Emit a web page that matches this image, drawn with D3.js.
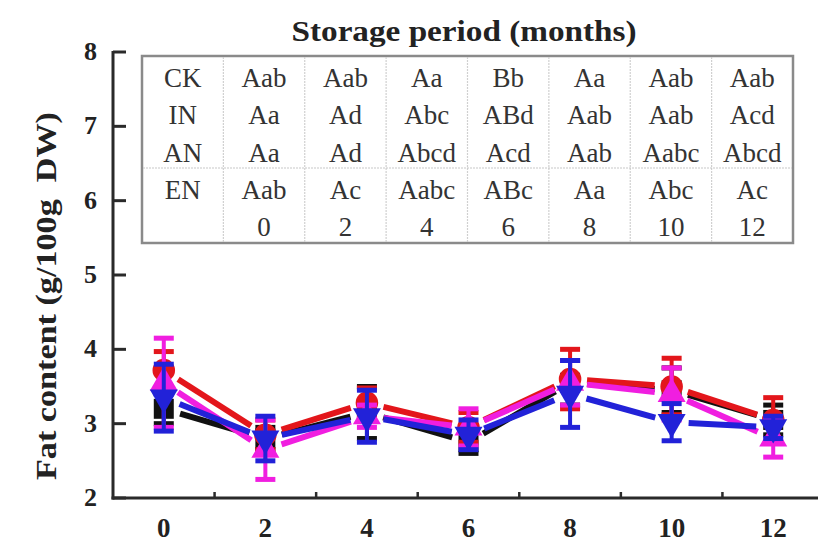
<!DOCTYPE html>
<html>
<head>
<meta charset="utf-8">
<script src="https://cdn.jsdelivr.net/npm/d3@7"></script>
<style>
  body { margin: 0; background: #fff; }
</style>
</head>
<body>
<script>
// months on the x axis
const months = [0, 2, 4, 6, 8, 10, 12]
const yTicks = [2, 3, 4, 5, 6, 7, 8]

// series means (g/100g DW)
const seriesNames = ["CK", "IN", "AN", "EN"]
const ckValues = [3.2, 2.8, 3.15, 2.75, 3.55, 3.45, 3.05]
const inValues = [3.72, 2.85, 3.28, 2.95, 3.6, 3.5, 3.05]
const anValues = [3.55, 2.65, 3.1, 2.95, 3.55, 3.4, 2.8]
const enValues = [3.35, 2.8, 3.1, 2.85, 3.4, 3.02, 2.95]

// standard deviations
const ckErr = [0.2, 0.15, 0.35, 0.15, 0.3, 0.3, 0.2]
const inErr = [0.25, 0.2, 0.2, 0.2, 0.4, 0.38, 0.3]
const anErr = [0.6, 0.4, 0.15, 0.25, 0.3, 0.35, 0.25]
const enErr = [0.45, 0.3, 0.35, 0.2, 0.45, 0.25, 0.15]

// significance letters shown in the table
const ckLetters = ["Aab", "Aab", "Aa", "Bb", "Aa", "Aab", "Aab"]
const inLetters = ["Aa", "Ad", "Abc", "ABd", "Aab", "Aab", "Acd"]
const anLetters = ["Aa", "Ad", "Abcd", "Acd", "Aab", "Aabc", "Abcd"]
const enLetters = ["Aab", "Ac", "Aabc", "ABc", "Aa", "Abc", "Ac"]

const series = [
  {name: "CK", values: ckValues, err: ckErr, color: "#111111", symbol: d3.symbolSquare, size: 400, rot: 0},
  {name: "IN", values: inValues, err: inErr, color: "#e3161b", symbol: d3.symbolCircle, size: 400, rot: 0},
  {name: "AN", values: anValues, err: anErr, color: "#f01ee0", symbol: d3.symbolTriangle, size: 340, rot: 0},
  {name: "EN", values: enValues, err: enErr, color: "#2222d8", symbol: d3.symbolTriangle, size: 340, rot: 180}
]
const tableRows = [ckLetters, inLetters, anLetters, enLetters]

const serif = "'Liberation Serif', 'Times New Roman', serif"
const W = 818, H = 542
const svg = d3.select("body").append("svg")
    .attr("width", W)
    .attr("height", H)
    .style("font-family", serif)

const x = d3.scaleLinear().domain([-1, 13]).range([113, 824])
const y = d3.scaleLinear().domain([2, 8]).range([498, 52])

// axes
svg.append("line")
    .attr("x1", 113).attr("x2", 113)
    .attr("y1", y(8) - 1).attr("y2", y(2) + 1.5)
    .attr("stroke", "#2a2a2a").attr("stroke-width", 3)
svg.append("line")
    .attr("x1", 111.5).attr("x2", W)
    .attr("y1", y(2)).attr("y2", y(2))
    .attr("stroke", "#2a2a2a").attr("stroke-width", 3)

svg.selectAll(".ytick")
    .data(yTicks)
    .enter()
    .append("line")
    .attr("class", "ytick")
    .attr("x1", 113).attr("x2", 126)
    .attr("y1", d => y(d)).attr("y2", d => y(d))
    .attr("stroke", "#2a2a2a").attr("stroke-width", 3)

svg.selectAll(".ylabel")
    .data(yTicks)
    .enter()
    .append("text")
    .attr("class", "ylabel")
    .style("font-family", serif)
    .attr("x", 97)
    .attr("y", d => y(d) + 8)
    .attr("text-anchor", "end")
    .attr("font-size", 26)
    .attr("font-weight", "bold")
    .attr("fill", "#222")
    .text(d => d)

// minor ticks between months
svg.selectAll(".xminor")
    .data(months.map(d => d + 1))
    .enter()
    .append("line")
    .attr("class", "xminor")
    .attr("x1", d => x(d)).attr("x2", d => x(d))
    .attr("y1", y(2)).attr("y2", y(2) - 6)
    .attr("stroke", "#2a2a2a").attr("stroke-width", 2.5)

svg.selectAll(".xlabel")
    .data(months)
    .enter()
    .append("text")
    .attr("class", "xlabel")
    .style("font-family", serif)
    .attr("x", d => x(d))
    .attr("y", 537)
    .attr("text-anchor", "middle")
    .attr("font-size", 27)
    .attr("font-weight", "bold")
    .attr("fill", "#222")
    .text(d => d)

// axis titles
svg.append("text")
    .style("font-family", serif)
    .attr("x", 464).attr("y", 41)
    .attr("text-anchor", "middle")
    .attr("font-size", 30)
    .attr("font-weight", "bold")
    .attr("fill", "#222")
    .attr("textLength", 345)
    .attr("lengthAdjust", "spacingAndGlyphs")
    .text("Storage period (months)")

svg.append("text")
    .style("font-family", serif)
    .attr("transform", "translate(56,296) rotate(-90)")
    .attr("text-anchor", "middle")
    .attr("font-size", 30)
    .attr("font-weight", "bold")
    .attr("fill", "#222")
    .attr("textLength", 368)
    .attr("lengthAdjust", "spacingAndGlyphs")
    .text("Fat content (g/100g\u00a0\u00a0DW)")

// table of letters
const colIdx = d3.range(8)
const col = d3.scaleBand().domain(colIdx).range([142, 793])
const rowY = d3.scaleLinear().domain([0, 4]).range([87, 236])

const table = svg.append("g")
table.append("rect")
    .attr("x", 142).attr("y", 56)
    .attr("width", 651).attr("height", 187)
    .attr("fill", "none")
    .attr("stroke", "#8a8a8a").attr("stroke-width", 2.5)

table.selectAll(".vdiv")
    .data(colIdx.slice(1))
    .enter()
    .append("line")
    .attr("class", "vdiv")
    .attr("x1", d => col(d)).attr("x2", d => col(d))
    .attr("y1", 57).attr("y2", 242)
    .attr("stroke", "#d0d0d0").attr("stroke-width", 1.2)
    .attr("stroke-dasharray", "2,1")

table.append("line")
    .attr("x1", 143).attr("x2", 792)
    .attr("y1", 168).attr("y2", 168)
    .attr("stroke", "#c8c8c8").attr("stroke-width", 1.2)
    .attr("stroke-dasharray", "2,1")

const cells = []
seriesNames.forEach((s, r) => {
  cells.push({r: r, c: 0, t: s})
  tableRows[r].forEach((t, i) => cells.push({r: r, c: i + 1, t: t}))
})
months.forEach((m, i) => cells.push({r: 4, c: i + 1, t: m}))

table.selectAll(".cell")
    .data(cells)
    .enter()
    .append("text")
    .attr("class", "cell")
    .style("font-family", serif)
    .attr("x", d => col(d.c) + col.bandwidth() / 2)
    .attr("y", d => rowY(d.r))
    .attr("text-anchor", "middle")
    .attr("font-size", 27)
    .attr("fill", "#333")
    .text(d => d.t)

// data lines with a gap around each marker
const gap = 17
function segments(s) {
  let out = []
  for (let i = 0; i < months.length - 1; i++) {
    let x1 = x(months[i]), y1 = y(s.values[i])
    let x2 = x(months[i + 1]), y2 = y(s.values[i + 1])
    let len = Math.hypot(x2 - x1, y2 - y1)
    let ux = (x2 - x1) / len, uy = (y2 - y1) / len
    out.push({x1: x1 + ux * gap, y1: y1 + uy * gap, x2: x2 - ux * gap, y2: y2 - uy * gap})
  }
  return out
}

series.forEach(s => {
  let g = svg.append("g")
  g.selectAll("line.seg")
      .data(segments(s))
      .enter()
      .append("line")
      .attr("class", "seg")
      .attr("x1", d => d.x1).attr("y1", d => d.y1)
      .attr("x2", d => d.x2).attr("y2", d => d.y2)
      .attr("stroke", s.color).attr("stroke-width", 6)

  let pts = months.map((m, i) => ({m: m, v: s.values[i], e: s.err[i]}))
  g.selectAll("line.err")
      .data(pts)
      .enter()
      .append("line")
      .attr("class", "err")
      .attr("x1", d => x(d.m)).attr("x2", d => x(d.m))
      .attr("y1", d => y(d.v + d.e)).attr("y2", d => y(d.v - d.e))
      .attr("stroke", s.color).attr("stroke-width", 4)
  g.selectAll("line.capt")
      .data(pts)
      .enter()
      .append("line")
      .attr("class", "capt")
      .attr("x1", d => x(d.m) - 10).attr("x2", d => x(d.m) + 10)
      .attr("y1", d => y(d.v + d.e)).attr("y2", d => y(d.v + d.e))
      .attr("stroke", s.color).attr("stroke-width", 5)
  g.selectAll("line.capb")
      .data(pts)
      .enter()
      .append("line")
      .attr("class", "capb")
      .attr("x1", d => x(d.m) - 10).attr("x2", d => x(d.m) + 10)
      .attr("y1", d => y(d.v - d.e)).attr("y2", d => y(d.v - d.e))
      .attr("stroke", s.color).attr("stroke-width", 5)

  g.selectAll("path.mark")
      .data(pts)
      .enter()
      .append("path")
      .attr("class", "mark")
      .attr("d", d3.symbol().type(s.symbol).size(s.size))
      .attr("transform", d => "translate(" + x(d.m) + "," + y(d.v) + ") rotate(" + s.rot + ")")
      .attr("fill", s.color)
})
</script>
</body>
</html>
